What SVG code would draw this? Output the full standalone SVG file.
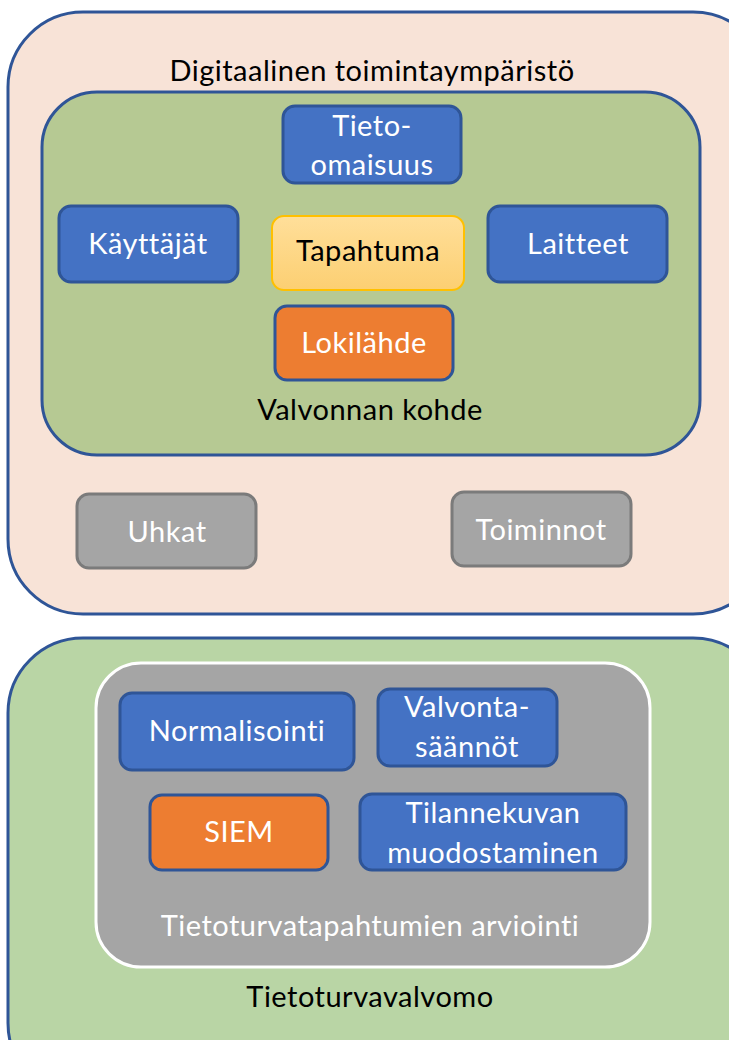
<svg xmlns="http://www.w3.org/2000/svg" width="729" height="1040" viewBox="0 0 729 1040">
<defs>
<linearGradient id="yel" x1="0" y1="0" x2="0" y2="1">
<stop offset="0" stop-color="#FFDF9A"/>
<stop offset="1" stop-color="#FCCF72"/>
</linearGradient>
</defs>
<style>
text{font-family:Lato,"Open Sans","Liberation Sans",sans-serif;font-size:29px;letter-spacing:0.5px;text-anchor:middle}
.blue rect{fill:#4472C4;stroke:#2F5597;stroke-width:3}
.orange rect{fill:#ED7D31;stroke:#2F5597;stroke-width:3}
.gray rect{fill:#A5A5A5;stroke:#7B7B7B;stroke-width:3}
.w{fill:#FFFFFF}
.k{fill:#000000}
</style>
<g id="digitaalinen">
<rect x="8" y="12" width="760" height="602" rx="75" fill="#F8E3D7" stroke="#2F5597" stroke-width="3"/>
<text class="k" x="372" y="81">Digitaalinen toimintaympäristö</text>
</g>
<g id="valvonnan-kohde">
<rect x="42" y="92" width="658" height="363" rx="55" fill="#B6C993" stroke="#2F5597" stroke-width="3"/>
<text class="k" x="370" y="420">Valvonnan kohde</text>
</g>
<g id="tieto-omaisuus" class="blue">
<rect x="283" y="106" width="178" height="77" rx="12"/>
<text class="w" x="372" y="136">Tieto-</text>
<text class="w" x="372" y="175">omaisuus</text>
</g>
<g id="kayttajat" class="blue">
<rect x="59" y="206" width="179" height="76" rx="12"/>
<text class="w" x="148" y="254">Käyttäjät</text>
</g>
<g id="tapahtuma">
<rect x="272" y="216" width="192" height="74" rx="12" fill="url(#yel)" stroke="#FFC000" stroke-width="2"/>
<text class="k" x="368" y="261">Tapahtuma</text>
</g>
<g id="laitteet" class="blue">
<rect x="488" y="206" width="179" height="76" rx="12"/>
<text class="w" x="578" y="254">Laitteet</text>
</g>
<g id="lokilahde" class="orange">
<rect x="275" y="306" width="178" height="74" rx="12"/>
<text class="w" x="364" y="353">Lokilähde</text>
</g>
<g id="uhkat" class="gray">
<rect x="77" y="494" width="179" height="74" rx="12"/>
<text class="w" x="167" y="542">Uhkat</text>
</g>
<g id="toiminnot" class="gray">
<rect x="452" y="492" width="179" height="74" rx="12"/>
<text class="w" x="541" y="540">Toiminnot</text>
</g>
<g id="tietoturvavalvomo">
<rect x="8" y="638" width="760" height="460" rx="75" fill="#B9D5A5" stroke="#2F5597" stroke-width="3"/>
<text class="k" x="370" y="1007">Tietoturvavalvomo</text>
</g>
<g id="arviointi">
<rect x="96" y="663" width="554" height="304" rx="45" fill="#A5A5A5" stroke="#FFFFFF" stroke-width="3"/>
<text class="w" x="370" y="936">Tietoturvatapahtumien arviointi</text>
</g>
<g id="normalisointi" class="blue">
<rect x="120" y="693" width="234" height="77" rx="12"/>
<text class="w" x="237" y="741">Normalisointi</text>
</g>
<g id="valvontasaannot" class="blue">
<rect x="378" y="689" width="179" height="77" rx="12"/>
<text class="w" x="467" y="717">Valvonta-</text>
<text class="w" x="467" y="757">säännöt</text>
</g>
<g id="siem" class="orange">
<rect x="150" y="795" width="178" height="75" rx="12"/>
<text class="w" x="239" y="842">SIEM</text>
</g>
<g id="tilannekuva" class="blue">
<rect x="360" y="794" width="266" height="76" rx="12"/>
<text class="w" x="493" y="823">Tilannekuvan</text>
<text class="w" x="493" y="863">muodostaminen</text>
</g>
<g id="connectors"/>
</svg>
